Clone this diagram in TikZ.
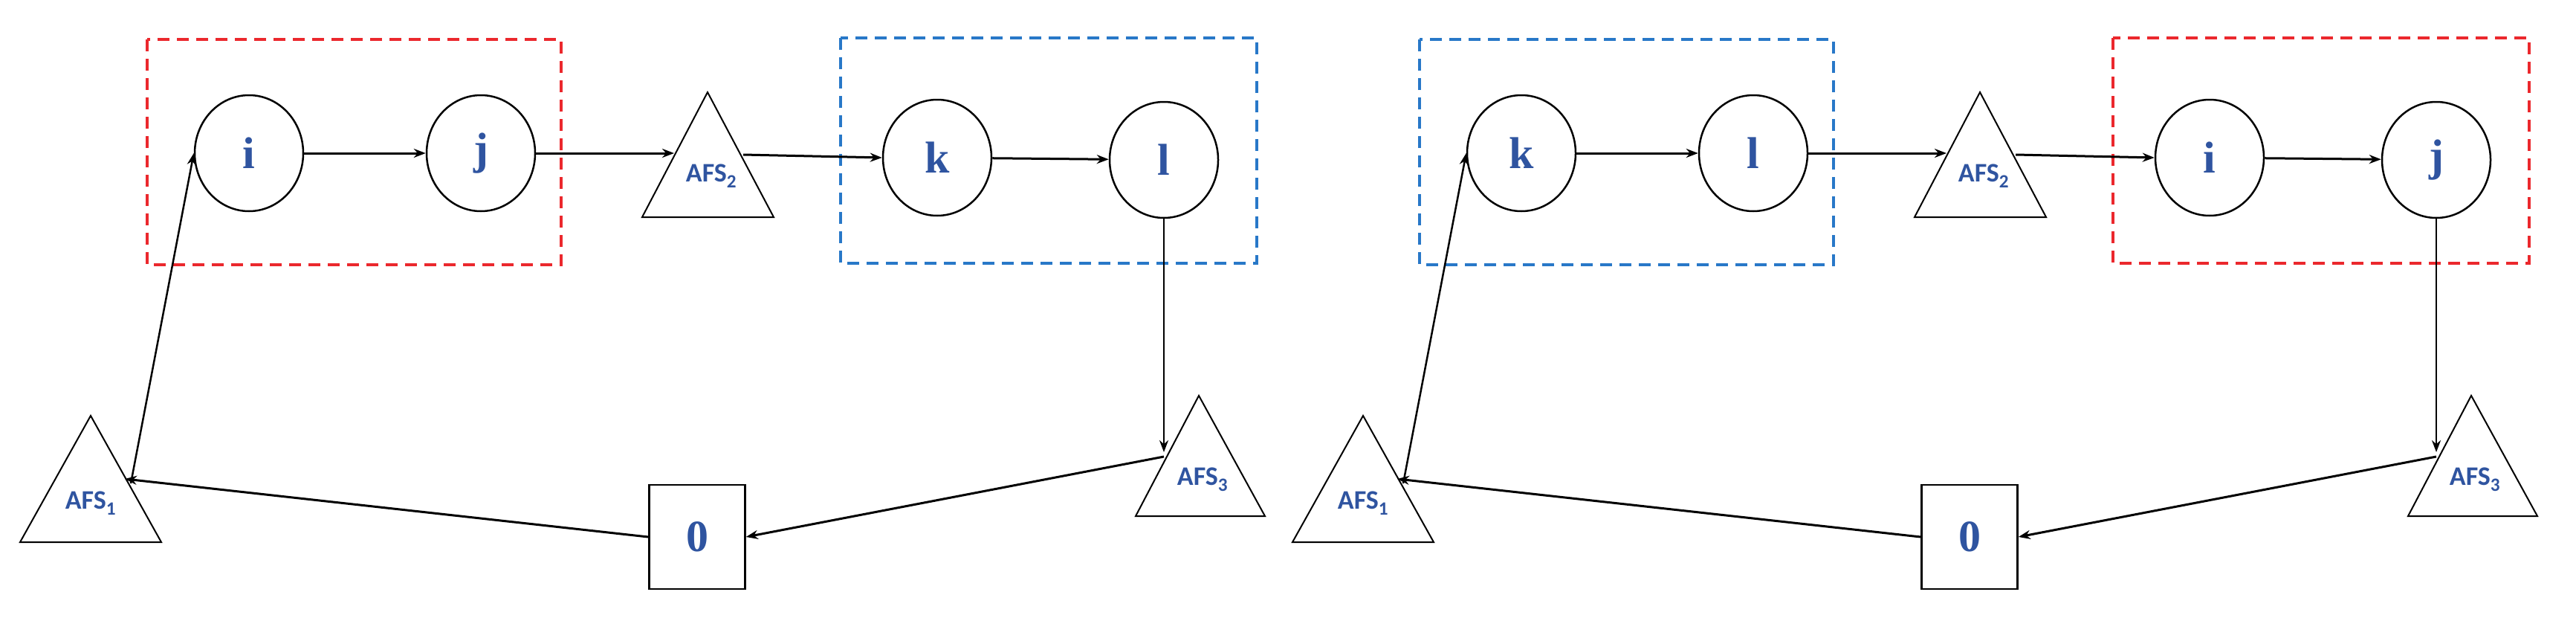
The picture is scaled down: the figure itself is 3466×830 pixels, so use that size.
\documentclass[tikz,border=0pt]{standalone}
\usepackage{fontspec}
\newfontfamily\afsfont{Carlito}
\newfontfamily\letfont{Liberation Serif}
\usetikzlibrary{arrows.meta,shapes.geometric}
\definecolor{txtblue}{RGB}{47,84,160}
\definecolor{boxred}{RGB}{235,40,45}
\definecolor{boxblue}{RGB}{40,120,200}
\tikzset{
  cust/.style={draw,ellipse,line width=2.5pt,minimum width=146pt,minimum height=156pt,inner sep=0pt,
    text=txtblue,font=\letfont\bfseries\fontsize{60}{60}\selectfont},
  dep/.style={draw,line width=2.5pt,minimum width=129pt,minimum height=140pt,inner sep=0pt,
    text=txtblue,font=\letfont\bfseries\fontsize{60}{60}\selectfont},
  afs/.style={text=txtblue,font=\afsfont\bfseries\fontsize{36}{36}\selectfont,inner sep=0pt},
  tri/.style={line width=2pt},
  grp/.style={line width=4pt,dash pattern=on 16pt off 10pt},
  edge/.style={line width=3pt,-{Stealth[length=16pt,width=12pt]}},
}
\newcommand{\drawhalf}[7]{%
  \draw[grp,#6] (198,53) rectangle (755,356);
  \draw[grp,#7] (1131,51) rectangle (1691,354);
  \node[cust] (#1a) at (335,206) {#2};
  \node[cust] (#1b) at (647,206) {#3};
  \node[cust] (#1c) at (1261,212) {#4};
  \node[cust] (#1d) at (1566,215) {#5};
  \node[dep] (#1z) at (938,722) {0};
  \draw[tri] (952,124) -- (1041,292) -- (864,292) -- cycle;
  \node[afs] (#1t2) at (957,237) {AFS\textsubscript{2}};
  \draw[tri] (1613,532) -- (1702,694) -- (1528,694) -- cycle;
  \node[afs] (#1t3) at (1618,645) {AFS\textsubscript{3}};
  \draw[tri] (122,559) -- (217,729) -- (27,729) -- cycle;
  \node[afs] (#1t1) at (122,677) {AFS\textsubscript{1}};
  \coordinate (#1t2in) at (907,206);
  \coordinate (#1t2out) at (1000,208);
  \coordinate (#1t3in) at (1566,608);
  \coordinate (#1t3out) at (1566,614);
  \coordinate (#1t1in) at (168,644);
  \coordinate (#1t1out) at (176,650);
  \draw[edge] (#1a) -- (#1b);
  \draw[edge] (#1b.east) -- (#1t2in);
  \draw[edge] (#1t2out) -- (#1c.west);
  \draw[edge] (#1c) -- (#1d);
  \draw[edge,line width=2.5pt] (#1d.south) -- (#1t3in);
  \draw[edge] (#1t3out) -- (#1z.east);
  \draw[edge] (#1z.west) -- (#1t1in);
  \draw[edge,line width=2.5pt] (#1t1out) -- (#1a.west);
}
\begin{document}
\begin{tikzpicture}[x=1pt,y=-1pt]
\useasboundingbox (0,0) rectangle (3466,830);
\drawhalf{L}{i}{j}{k}{l}{boxred}{boxblue}
\begin{scope}[xshift=1712pt]
\drawhalf{R}{k}{l}{i}{j}{boxblue}{boxred}
\end{scope}
\end{tikzpicture}
\end{document}
